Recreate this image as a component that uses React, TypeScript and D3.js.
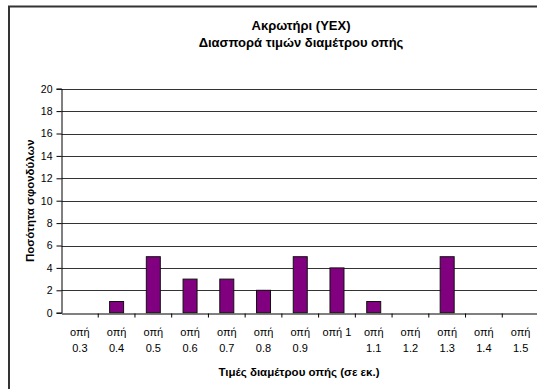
import { useEffect, useRef } from 'react';
import * as d3 from 'd3';

const categories = ['0.3', '0.4', '0.5', '0.6', '0.7', '0.8', '0.9', '1', '1.1', '1.2', '1.3', '1.4', '1.5'];
const counts = [0, 1, 5, 3, 3, 2, 5, 4, 1, 0, 5, 0, 0];
const yTicks = [0, 2, 4, 6, 8, 10, 12, 14, 16, 18, 20];
const titleLines = ['Ακρωτήρι (YEX)', 'Διασπορά τιμών διαμέτρου οπής'];
const xTitle = 'Τιμές διαμέτρου οπής (σε εκ.)';
const yTitle = 'Ποσότητα σφονδύλων';

const W = 537;
const H = 389;
const font = 'Liberation Sans, Arial, sans-serif';

export default function App() {
    const svgRef = useRef<SVGSVGElement>(null);

    useEffect(() => {
        if (!svgRef.current) return;
        const svg = d3.select(svgRef.current);
        svg.selectAll('*').remove();

        const left = 61.5, right = 539, top = 88.7, bottom = 312.7;

        const x = d3.scaleBand<string>().domain(categories).range([left, right]).paddingInner(0).paddingOuter(0);
        const y = d3.scaleLinear().domain([0, 20]).range([bottom, top]);

        // outer frame
        svg.append('rect')
            .attr('x', 9).attr('y', 6.5)
            .attr('width', 560).attr('height', 400)
            .attr('fill', 'white')
            .attr('stroke', '#333').attr('stroke-width', 2);

        // title
        const title = svg.append('text')
            .attr('text-anchor', 'middle')
            .attr('font-family', font)
            .attr('font-size', 13)
            .attr('font-weight', 'bold');
        titleLines.forEach((t, i) => {
            title.append('tspan').attr('x', 301).attr('y', 30 + i * 17).text(t);
        });

        // gridlines
        svg.append('g').selectAll('line')
            .data(yTicks.filter(d => d > 0))
            .join('line')
            .attr('x1', left).attr('x2', right)
            .attr('y1', d => Math.round(y(d)) + 0.5).attr('y2', d => Math.round(y(d)) + 0.5)
            .attr('stroke', '#333').attr('stroke-width', 1);

        // bars
        const bw = 14;
        svg.append('g').selectAll('rect')
            .data(counts.map((v, i) => ({ c: categories[i], v })).filter(d => d.v > 0))
            .join('rect')
            .attr('x', d => x(d.c)! + x.bandwidth() / 2 - bw / 2)
            .attr('y', d => y(d.v))
            .attr('width', bw)
            .attr('height', d => bottom - y(d.v))
            .attr('fill', '#800080')
            .attr('stroke', '#111').attr('stroke-width', 1);

        // y axis
        const yAxis = d3.axisLeft(y).tickValues(yTicks).tickSize(5).tickPadding(4).tickFormat(d => String(d));
        const yg = svg.append('g').attr('transform', `translate(${left},0)`).call(yAxis);
        yg.select('.domain').attr('stroke', '#000');
        yg.selectAll('.tick line').attr('stroke', '#000');
        yg.selectAll('.tick text').attr('font-family', font).attr('font-size', 10.5).attr('fill', '#000');

        // x axis
        const xAxis = d3.axisBottom(x).tickSize(0).tickFormat(() => '');
        const xg = svg.append('g').attr('transform', `translate(0,${Math.round(bottom) + 0.5})`).call(xAxis);
        xg.select('.domain').attr('stroke', '#000');
        xg.selectAll('.tick').remove();
        xg.selectAll('line.sep')
            .data(categories.slice(1))
            .join('line')
            .attr('class', 'sep')
            .attr('x1', d => x(d)!).attr('x2', d => x(d)!)
            .attr('y1', 0).attr('y2', 4)
            .attr('stroke', '#000');

        const labels = svg.append('g')
            .attr('font-family', font)
            .attr('font-size', 11)
            .attr('text-anchor', 'middle');
        categories.forEach(c => {
            const cx = x(c)! + x.bandwidth() / 2;
            if (c === '1') {
                labels.append('text').attr('x', cx).attr('y', 336).text('οπή ' + c);
            } else {
                labels.append('text').attr('x', cx).attr('y', 336).text('οπή');
                labels.append('text').attr('x', cx).attr('y', 352).text(c);
            }
        });

        // axis titles
        svg.append('text')
            .attr('x', 299).attr('y', 376)
            .attr('text-anchor', 'middle')
            .attr('font-family', font).attr('font-size', 11.5).attr('font-weight', 'bold')
            .text(xTitle);

        svg.append('text')
            .attr('transform', `translate(34,${(top + bottom) / 2}) rotate(-90)`)
            .attr('text-anchor', 'middle')
            .attr('font-family', font).attr('font-size', 11.5).attr('font-weight', 'bold')
            .text(yTitle);
    }, []);

    return (
        <svg ref={svgRef} width={W} height={H} style={{ position: 'absolute', left: 0, top: 0, background: 'white' }}></svg>
    );
}
